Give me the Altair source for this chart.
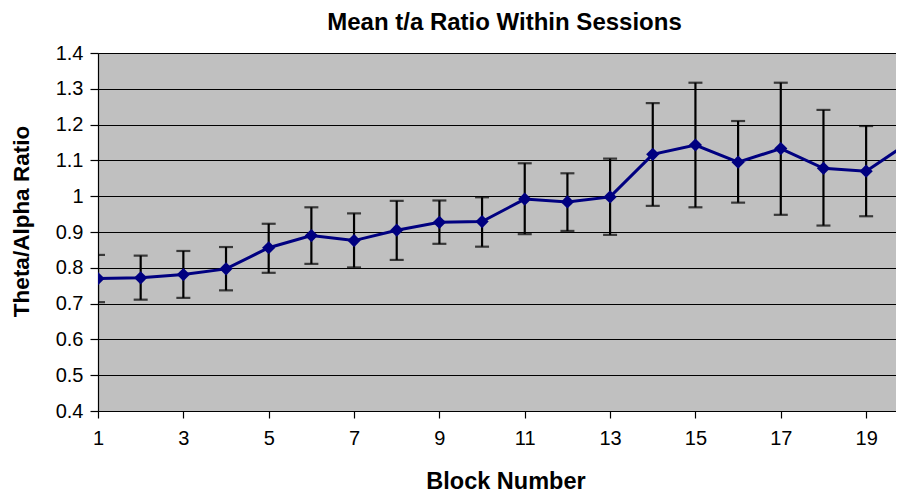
import altair as alt
import pandas as pd

blocks = [1, 2, 3, 4, 5, 6, 7, 8, 9, 10, 11, 12, 13, 14, 15, 16, 17, 18, 19, 20]
means = [0.770, 0.772, 0.781, 0.797, 0.856, 0.890, 0.876, 0.905, 0.927, 0.929,
         0.992, 0.984, 0.998, 1.117, 1.143, 1.095, 1.133, 1.078, 1.070, 1.150]
upper = [0.836, 0.834, 0.847, 0.858, 0.923, 0.969, 0.952, 0.987, 0.988, 0.997,
         1.092, 1.064, 1.105, 1.260, 1.317, 1.210, 1.317, 1.241, 1.196, 1.275]
lower = [0.704, 0.711, 0.716, 0.737, 0.786, 0.811, 0.801, 0.822, 0.867, 0.859,
         0.894, 0.903, 0.892, 0.973, 0.969, 0.982, 0.948, 0.918, 0.944, 1.025]

x_ticks = [1, 3, 5, 7, 9, 11, 13, 15, 17, 19]
y_ticks = [0.4, 0.5, 0.6, 0.7, 0.8, 0.9, 1.0, 1.1, 1.2, 1.3, 1.4]

df = pd.DataFrame({"block": blocks, "mean": means, "upper": upper, "lower": lower})

FONT = "Liberation Sans"

x_enc = alt.X(
    "block:Q",
    scale=alt.Scale(domain=[1, 19.70], nice=False, zero=False),
    axis=alt.Axis(
        values=x_ticks, grid=False, title="Block Number",
        tickSize=7, labelPadding=10, labelFlush=False, labelOverlap=False,
        titleX=407.5, titleY=77, titleBaseline="alphabetic", titleAlign="center",
        titleFontSize=23.5, titleFontWeight="bold",
    ),
)


def y_enc(field):
    return alt.Y(
        f"{field}:Q",
        scale=alt.Scale(domain=[0.4, 1.4], nice=False, zero=False),
        axis=alt.Axis(
            values=y_ticks, format=".1~f", grid=True, title="Theta/Alpha Ratio",
            tickSize=8, labelPadding=7, labelFlush=False, labelOverlap=False,
            titleX=-70, titleY=168, titleAngle=270, titleBaseline="alphabetic",
            titleAlign="center", titleFontSize=22.5, titleFontWeight="bold",
        ),
    )


base = alt.Chart(df)

bars = base.mark_rule(color="black", strokeWidth=2.2, clip=True).encode(
    x=x_enc, y=y_enc("lower"), y2="upper:Q"
)
cap_hi = base.mark_tick(color="black", thickness=2.2, size=14, orient="horizontal", clip=True).encode(
    x=x_enc, y=y_enc("upper")
)
cap_lo = base.mark_tick(color="black", thickness=2.2, size=14, orient="horizontal", clip=True).encode(
    x=x_enc, y=y_enc("lower")
)
line = base.mark_line(color="#000080", strokeWidth=3, clip=True).encode(
    x=x_enc, y=y_enc("mean")
)
pts = base.mark_point(shape="diamond", filled=True, size=175, color="#000080", opacity=1, clip=True).encode(
    x=x_enc, y=y_enc("mean")
)

chart = (
    alt.layer(bars, cap_hi, cap_lo, line, pts)
    .properties(
        width=798,
        height=358,
        autosize=alt.AutoSizeParams(type="none"),
        padding={"left": 90, "top": 45, "right": 0, "bottom": 95},
        title=alt.TitleParams(
            "Mean t/a Ratio Within Sessions",
            anchor="middle", frame="group", dx=7.5, dy=23, offset=12,
            baseline="alphabetic", fontSize=24, fontWeight="bold", font=FONT, color="black",
        ),
    )
    .configure(background="white")
    .configure_view(fill="#c0c0c0", strokeWidth=0)
    .configure_axis(
        labelFont=FONT, titleFont=FONT, labelFontSize=20, labelColor="black",
        titleColor="black", domainColor="black", domainWidth=1.2, tickColor="black",
        tickWidth=1.2, gridColor="black", gridWidth=1, gridOpacity=1,
    )
)

chart.save("out.html", embed_options={"renderer": "svg", "actions": False})
